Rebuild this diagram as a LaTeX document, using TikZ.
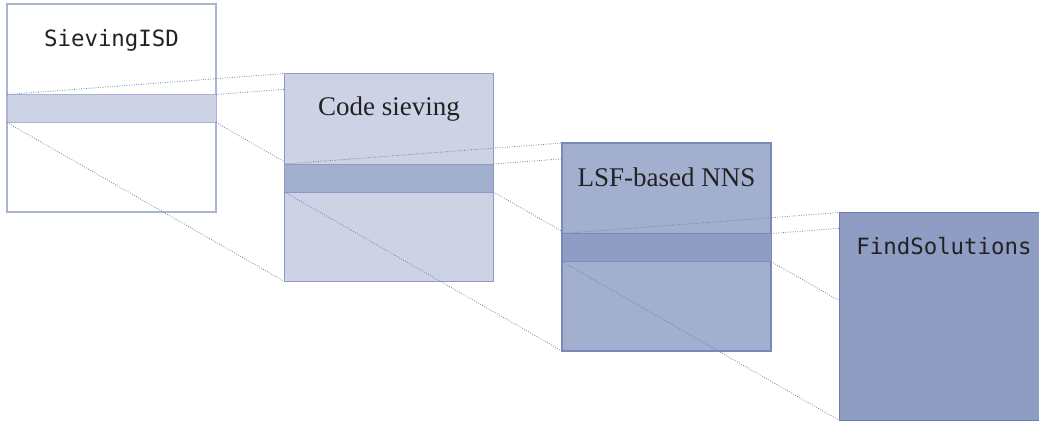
\documentclass[tikz,border=0pt]{standalone}
\usepackage{fontspec}
\setmainfont{Liberation Serif}
\setmonofont{DejaVu Sans Mono}
\usetikzlibrary{positioning}
\definecolor{ink}{HTML}{222222}
\definecolor{linkc}{HTML}{6F7CB8}
\definecolor{edgeA}{HTML}{A9B3D3}
\definecolor{edgeB}{HTML}{8D9AC5}
\definecolor{edgeC}{HTML}{7B89B8}
\definecolor{edgeD}{HTML}{6C7CAE}
\definecolor{tintA}{HTML}{CDD3E4}
\definecolor{tintB}{HTML}{A3AFCE}
\definecolor{tintC}{HTML}{8F9CC3}
\tikzset{
  stage/.style={rectangle, line width=1.4pt, minimum width=209pt, minimum height=208pt,
                inner sep=0pt, outer sep=0pt, anchor=north west},
  band/.style={rectangle, line width=0.8pt, minimum width=209pt, minimum height=28pt,
               inner sep=0pt, outer sep=0pt, anchor=north west},
  codename/.style={font=\ttfamily\fontsize{22.4}{26}\selectfont, text=ink, anchor=base, inner sep=0pt},
  textname/.style={font=\fontsize{27}{31}\selectfont, text=ink, anchor=base, inner sep=0pt},
  link/.style={draw=linkc, line width=0.8pt, dash pattern=on 0.8pt off 1.6pt},
}
\begin{document}
\begin{tikzpicture}[x=1pt, y=-1pt]
% ---- grid (pt, y runs down) ----------------------------------------------------
\def\W{209} \def\H{208}
\def\xA{7}   \def\xB{284.5} \def\xC{562}  \def\xD{839.5}
\def\yA{4}   \def\yB{73.5}  \def\yC{143}  \def\yD{212.5}
\path[use as bounding box, clip] (0,0) rectangle (1039,421);

% ---- stage 1 ------------------------------------------------------------------
\node[stage, fill=white, draw=edgeA] (isd) at (\xA,\yA) {};
\node[band, fill=tintA, draw=edgeA] (isdband) at ([yshift=-90.5pt]isd.north west) {};
\node[codename] (isdname) at ([yshift=-42pt]isd.north) {SievingISD};

% ---- zoom into stage 2 (drawn before the box so it hides them) -----------------
\coordinate (sieveNW) at (\xB,\yB);    \coordinate (sieveNE) at (\xB+\W,\yB);
\coordinate (sieveSW) at (\xB,\yB+\H); \coordinate (sieveSE) at (\xB+\W,\yB+\H);
\draw[link] (isdband.north west) -- (sieveNW);
\draw[link] (isdband.north east) -- (sieveNE);
\draw[link] (isdband.south west) -- (sieveSW);
\draw[link] (isdband.south east) -- (sieveSE);

% ---- stage 2 ------------------------------------------------------------------
\node[stage, fill=tintA, draw=edgeB] (sieve) at (sieveNW) {};
\node[band, fill=tintB, draw=edgeB] (sieveband) at ([yshift=-90.5pt]sieve.north west) {};
\node[textname] (sievename) at ([yshift=-42pt]sieve.north) {Code sieving};

% ---- zoom into stage 3 ------------------------------------------------------------
\coordinate (nnsNW) at (\xC,\yC);    \coordinate (nnsNE) at (\xC+\W,\yC);
\coordinate (nnsSW) at (\xC,\yC+\H); \coordinate (nnsSE) at (\xC+\W,\yC+\H);
\draw[link] (sieveband.north west) -- (nnsNW);
\draw[link] (sieveband.north east) -- (nnsNE);
\draw[link] (sieveband.south west) -- (nnsSW);
\draw[link] (sieveband.south east) -- (nnsSE);

% ---- stage 3 ------------------------------------------------------------------
\node[stage, fill=tintB, draw=edgeC] (nns) at (nnsNW) {};
\node[band, fill=tintC, draw=edgeC] (nnsband) at ([yshift=-90.5pt]nns.north west) {};
\node[textname] (nnsname) at ([yshift=-43pt]nns.north) {LSF-based NNS};

% ---- zoom into stage 4 ------------------------------------------------------------
\coordinate (solNW) at (\xD,\yD);    \coordinate (solNE) at (\xD+\W,\yD);
\coordinate (solSW) at (\xD,\yD+\H); \coordinate (solSE) at (\xD+\W,\yD+\H);
\draw[link] (nnsband.north west) -- (solNW);
\draw[link] (nnsband.north east) -- (solNE);
\draw[link] (nnsband.south west) -- (solSW);
\draw[link] (nnsband.south east) -- (solSE);

% ---- stage 4 ------------------------------------------------------------------
\node[stage, fill=tintC, draw=edgeD] (sol) at (solNW) {};
\node[codename] (solname) at ([yshift=-42pt]sol.north) {FindSolutions};
\end{tikzpicture}
\end{document}
